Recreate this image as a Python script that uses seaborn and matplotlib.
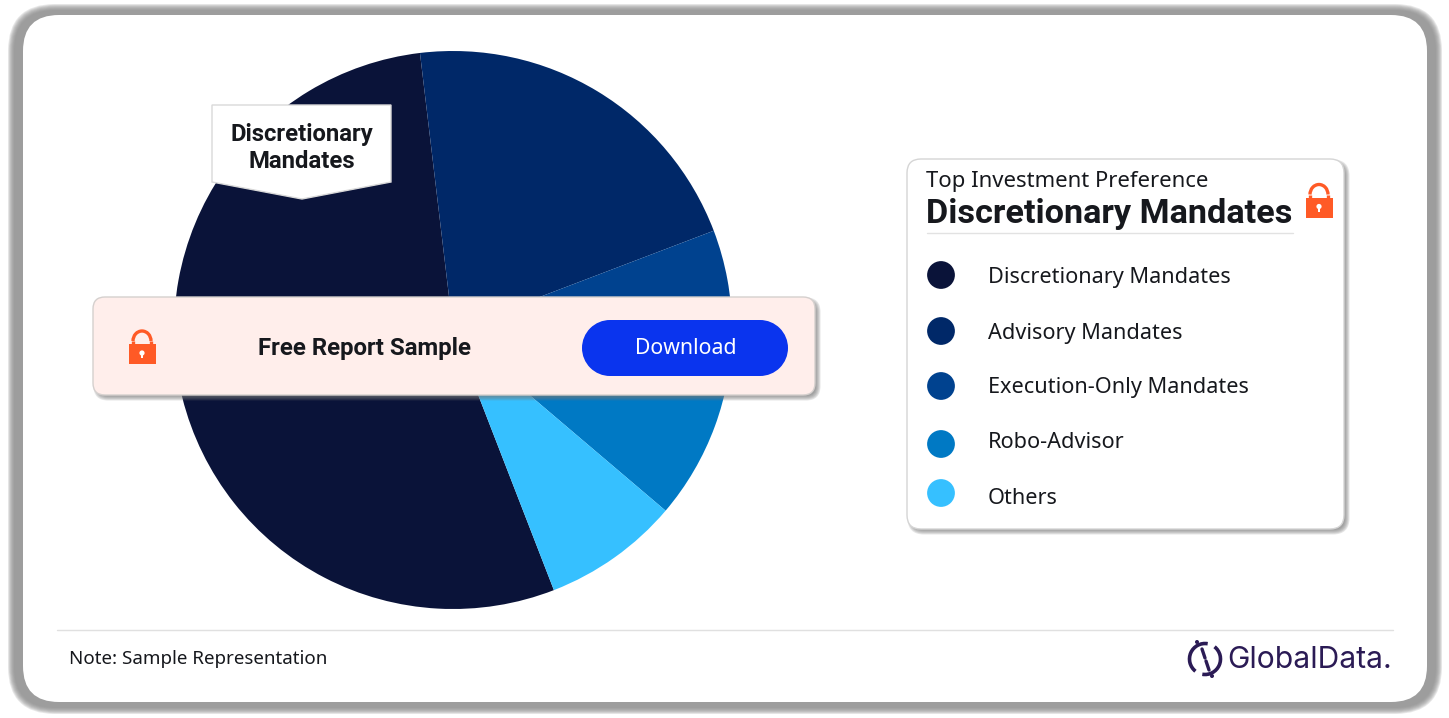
import matplotlib
matplotlib.use('Agg')
import matplotlib.pyplot as plt
from matplotlib.patches import FancyBboxPatch, Polygon, Circle, Arc, Rectangle
import numpy as np
import pandas as pd
import seaborn as sns

categories = ['Discretionary Mandates', 'Advisory Mandates', 'Execution-Only Mandates',
              'Robo-Advisor', 'Others']
shares = [54, 21.1, 5.8, 11.2, 7.9]
colors = ['#0A1339', '#002868', '#00428F', '#0079C4', '#36C0FF']

legend_title = 'Top Investment Preference'
legend_top = 'Discretionary Mandates'
callout_lines = 'Discretionary\nMandates'
banner_text = 'Free Report Sample'
button_text = 'Download'
note_text = 'Note: Sample Representation'
logo_text = 'GlobalData.'

LOCK = '#FF5A26'
INK = '#16181D'

sns.set_theme(style='white')
plt.rcParams['font.family'] = ['Noto Sans', 'DejaVu Sans']

W, H = 1449, 718
fig = plt.figure(figsize=(W / 100, H / 100), dpi=100, facecolor='white')


def px_axes(z):
    ax = fig.add_axes([0, 0, 1, 1], zorder=z)
    ax.set_xlim(0, W)
    ax.set_ylim(H, 0)
    ax.axis('off')
    ax.patch.set_alpha(0)
    return ax


def round_box(ax, x0, y0, x1, y1, r, **kw):
    p = FancyBboxPatch((x0 + r, y0 + r), x1 - x0 - 2 * r, y1 - y0 - 2 * r,
                       boxstyle=f'round,pad={r},rounding_size={r}', **kw)
    ax.add_patch(p)
    return p


def soft_shadow(ax, x0, y0, x1, y1, r, grow, color, alpha, steps=6, z=1):
    # stacked boxes, poor man's blur
    for g in np.linspace(grow, -grow, steps):
        round_box(ax, x0 - g, y0 - g, x1 + g, y1 + g, max(r + g, 1), fc=color,
                  ec='none', alpha=alpha / steps * 1.6, zorder=z)


def lock(ax, cx, cy, z=8):
    ax.add_patch(Rectangle((cx - 13.5, cy - 3), 27, 20, fc=LOCK, ec='none', zorder=z))
    ax.add_patch(Arc((cx, cy - 6), 18, 20, theta1=180, theta2=360, ec=LOCK, lw=2.4, zorder=z))
    ax.plot([cx - 9, cx - 9], [cy - 6, cy - 2], color=LOCK, lw=2.4, zorder=z, solid_capstyle='butt')
    ax.plot([cx + 9, cx + 9], [cy - 6, cy - 2], color=LOCK, lw=2.4, zorder=z, solid_capstyle='butt')
    ax.add_patch(Circle((cx, cy + 6), 2.6, fc='white', ec='none', zorder=z + 1))
    ax.add_patch(Rectangle((cx - 1, cy + 6), 2, 5, fc='white', ec='none', zorder=z + 1))


# outer frame
back = px_axes(0)
soft_shadow(back, 11, 7, 1439, 711, 44, 3, '#8C8C8C', 1.0, steps=8)
round_box(back, 23, 15, 1427, 702, 36, fc='white', ec='none', zorder=3)

# pie
pie_ax = fig.add_axes([174 / W, 1 - 609 / H, 558 / W, 558 / H], zorder=1)
pie_ax.pie(shares, colors=colors, startangle=291.2, counterclock=False, radius=1,
           wedgeprops={'linewidth': 0})
pie_ax.set_xlim(-1, 1)
pie_ax.set_ylim(-1, 1)

top = px_axes(2)

# callout on the pie
top.add_patch(Polygon([(212, 105), (391, 105), (391, 182), (302, 199), (212, 182)],
                      closed=True, fc='white', ec='#D9D9D9', lw=1, zorder=3))
top.text(302, 148, callout_lines, ha='center', va='center', fontsize=17.2, fontweight='bold',
         color=INK, family='Roboto', linespacing=1.2, zorder=4)

# banner
soft_shadow(top, 96, 300, 818, 398, 12, 2.5, '#777777', 0.7, z=4)
round_box(top, 93, 297, 815, 395, 12, fc='#FFEEEB', ec='#D5D0CE', lw=1, zorder=5)
lock(top, 142, 347)
top.text(364.5, 348.5, banner_text, ha='center', va='center', fontsize=17.3, fontweight='bold',
         color=INK, family='Roboto', zorder=8)
# pill button
top.add_patch(Rectangle((610, 320), 150, 56, fc='#0A34EE', ec='none', zorder=7))
top.add_patch(Circle((610, 348), 28, fc='#0A34EE', ec='none', zorder=7))
top.add_patch(Circle((760, 348), 28, fc='#0A34EE', ec='none', zorder=7))
top.text(686, 349, button_text, ha='center', va='center', fontsize=15.3, color='white', zorder=8)

# legend card
soft_shadow(top, 910, 162, 1347, 532, 14, 2.5, '#777777', 0.7, z=4)
round_box(top, 907, 159, 1344, 529, 14, fc='white', ec='#D5D5D5', lw=1, zorder=5)
top.text(926, 181, legend_title, ha='left', va='center', fontsize=15.9, color=INK, zorder=8)
top.text(926, 214, legend_top, ha='left', va='center', fontsize=24.7, fontweight='bold',
         color=INK, family='Roboto', zorder=8)
top.plot([927, 1293], [232.5, 232.5], color='#E2E2E2', lw=1, zorder=8)
lock(top, 1319, 200.5)

legend_df = pd.DataFrame({'name': categories,
                          'dot_y': [275, 331, 386, 444, 493],
                          'text_y': [278, 333, 388, 443, 498]})
legend_df['dot_x'] = 941
sns.scatterplot(data=legend_df, x='dot_x', y='dot_y', hue='name', hue_order=categories,
                palette=colors, s=400, linewidth=0, legend=False, ax=top, zorder=8)
top.set_xlim(0, W)
top.set_ylim(H, 0)
top.axis('off')
for name, y in zip(legend_df['name'], legend_df['text_y']):
    top.text(988, y, name, ha='left', va='center', fontsize=15.6, color=INK, zorder=8)

# footer
top.plot([57, 1393], [630, 630], color='#E0E0E0', lw=1, zorder=8)
top.text(69, 659, note_text, ha='left', va='center', fontsize=13.5, color=INK, zorder=8)

# logo
LOGO = '#2B1B55'
cx, cy = 1205, 659
top.add_patch(Arc((cx, cy), 31, 31, theta1=-52, theta2=100, ec=LOGO, lw=2.6, zorder=8))
top.add_patch(Arc((cx, cy), 31, 31, theta1=128, theta2=280, ec=LOGO, lw=2.6, zorder=8))
top.plot([cx - 3, cx], [cy - 10, cy - 1], color=LOGO, lw=2.4, zorder=8)
top.plot([cx + 1, cx + 4], [cy + 2, cy + 11], color=LOGO, lw=2.4, zorder=8)
top.add_patch(Circle((cx - 8, cy - 17), 2, fc=LOGO, ec='none', zorder=8))
top.add_patch(Circle((cx + 7, cy + 17), 2, fc=LOGO, ec='none', zorder=8))
top.text(1227, 660, logo_text, ha='left', va='center', fontsize=21.6, color=LOGO,
         family='Inter', zorder=8)

fig.savefig('out.png', dpi=100, facecolor='white')
